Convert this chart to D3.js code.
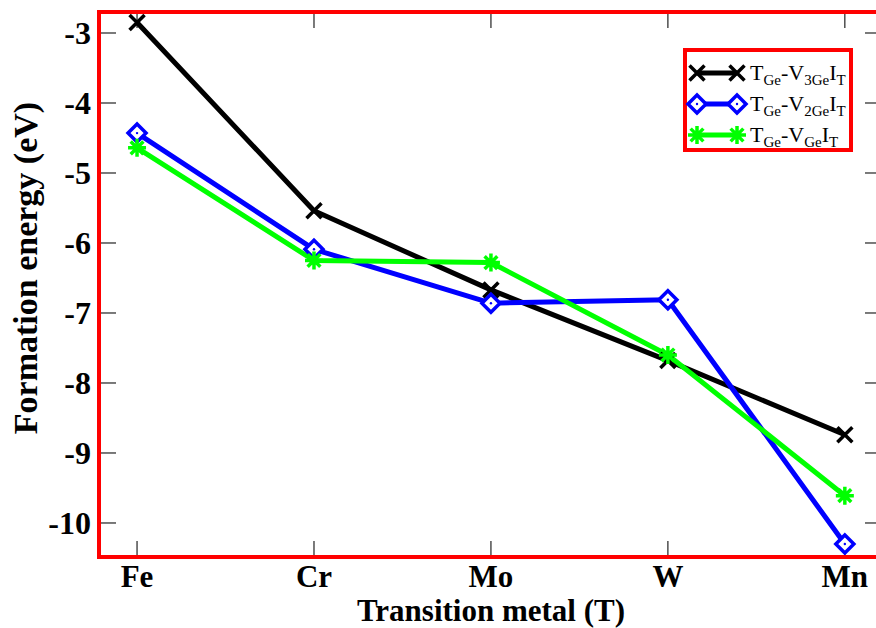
<!DOCTYPE html>
<html>
<head>
<meta charset="utf-8">
<script src="https://cdn.jsdelivr.net/npm/d3@7"></script>
<style>
  body { margin: 0; background: #fff; }
  svg text { font-family: "Liberation Serif", "Times New Roman", serif; }
</style>
</head>
<body>
<div id="chart"></div>
<script>
// data
const metals = ["Fe", "Cr", "Mo", "W", "Mn"];
const v3Ge = [-2.85, -5.54, -6.67, -7.68, -8.74];
const v2Ge = [-4.43, -6.09, -6.86, -6.81, -10.3];
const vGe = [-4.64, -6.25, -6.28, -7.6, -9.61];
const yTicks = [-3, -4, -5, -6, -7, -8, -9, -10];

const series = [
  { sub: "3Ge", values: v3Ge, color: "#000000", marker: "x" },
  { sub: "2Ge", values: v2Ge, color: "#0000ff", marker: "diamond" },
  { sub: "Ge", values: vGe, color: "#00ff00", marker: "star" }
];

const width = 876;
const height = 628;
const plotLeft = 99, plotRight = 882, plotTop = 12, plotBottom = 557;

const xScale = d3.scaleLinear().domain([-0.215, 4.21]).range([plotLeft, plotRight]);
const yScale = d3.scaleLinear().domain([-10.486, -2.7]).range([plotBottom, plotTop]);

const svg = d3
  .select("#chart")
  .append("svg")
  .attr("width", width)
  .attr("height", height);

// ticks (inward, on all four sides)
const ticks = svg.append("g").attr("stroke", "#222").attr("stroke-width", 1.2);
yTicks.forEach((t) => {
  ticks.append("line").attr("x1", plotLeft).attr("x2", plotLeft + 17)
    .attr("y1", yScale(t)).attr("y2", yScale(t));
  ticks.append("line").attr("x1", plotRight - 17).attr("x2", plotRight)
    .attr("y1", yScale(t)).attr("y2", yScale(t));
});
metals.forEach((m, i) => {
  ticks.append("line").attr("x1", xScale(i)).attr("x2", xScale(i))
    .attr("y1", plotBottom).attr("y2", plotBottom - 16);
  ticks.append("line").attr("x1", xScale(i)).attr("x2", xScale(i))
    .attr("y1", plotTop).attr("y2", plotTop + 16);
});

// tick labels
svg.append("g").selectAll("text").data(yTicks).enter().append("text")
  .attr("x", 91)
  .attr("y", (d) => yScale(d))
  .attr("dy", "0.35em")
  .attr("text-anchor", "end")
  .attr("font-size", 32)
  .attr("font-weight", "bold")
  .text((d) => d);

svg.append("g").selectAll("text").data(metals).enter().append("text")
  .attr("x", (d, i) => xScale(i))
  .attr("y", 587)
  .attr("text-anchor", "middle")
  .attr("font-size", 31)
  .attr("font-weight", "bold")
  .text((d) => d);

// axis titles
svg.append("text")
  .attr("x", 491).attr("y", 621)
  .attr("text-anchor", "middle")
  .attr("font-size", 31).attr("font-weight", "bold")
  .text("Transition metal (T)");

svg.append("text")
  .attr("transform", "translate(37,268) rotate(-90)")
  .attr("text-anchor", "middle")
  .attr("font-size", 34).attr("font-weight", "bold")
  .text("Formation energy (eV)");

// markers
function drawMarker(g, type, color, x, y) {
  if (type === "x") {
    const s = 7.5;
    g.append("path")
      .attr("d", `M${x - s},${y - s}L${x + s},${y + s}M${x - s},${y + s}L${x + s},${y - s}`)
      .attr("stroke", color).attr("stroke-width", 3.5).attr("fill", "none");
  } else if (type === "diamond") {
    const s = 9;
    g.append("path")
      .attr("d", `M${x},${y - s}L${x + s},${y}L${x},${y + s}L${x - s},${y}Z`)
      .attr("stroke", color).attr("stroke-width", 3.5).attr("fill", "#fff");
    g.append("circle").attr("cx", x).attr("cy", y).attr("r", 1.2).attr("fill", color);
  } else {
    const s = 9;
    let d = "";
    [0, 45, 90, 135].forEach((a) => {
      const r = (a * Math.PI) / 180;
      d += `M${x - s * Math.cos(r)},${y - s * Math.sin(r)}L${x + s * Math.cos(r)},${y + s * Math.sin(r)}`;
    });
    g.append("path").attr("d", d)
      .attr("stroke", color).attr("stroke-width", 3.5).attr("fill", "none");
  }
}

// lines
const line = d3.line()
  .x((d, i) => xScale(i))
  .y((d) => yScale(d));

series.forEach((s) => {
  svg.append("path")
    .datum(s.values)
    .attr("d", line)
    .attr("fill", "none")
    .attr("stroke", s.color)
    .attr("stroke-width", 5)
    .attr("stroke-linejoin", "round");
});
series.forEach((s) => {
  const g = svg.append("g");
  s.values.forEach((v, i) => drawMarker(g, s.marker, s.color, xScale(i), yScale(v)));
});

// frame
svg.append("rect")
  .attr("x", plotLeft).attr("y", plotTop)
  .attr("width", plotRight - plotLeft).attr("height", plotBottom - plotTop)
  .attr("fill", "none").attr("stroke", "#ff0000").attr("stroke-width", 4);

// legend
const legend = svg.append("g");
legend.append("rect")
  .attr("x", 685).attr("y", 50).attr("width", 166).attr("height", 100)
  .attr("fill", "#fff").attr("stroke", "#ff0000").attr("stroke-width", 4);

series.forEach((s, i) => {
  const y = 73 + i * 31;
  legend.append("line")
    .attr("x1", 697).attr("x2", 737).attr("y1", y).attr("y2", y)
    .attr("stroke", s.color).attr("stroke-width", 5);
  drawMarker(legend, s.marker, s.color, 697, y);
  drawMarker(legend, s.marker, s.color, 737, y);

  const t = legend.append("text")
    .attr("x", 750).attr("y", y + 7)
    .attr("font-size", 22);
  t.append("tspan").text("T");
  t.append("tspan").attr("font-size", 15).attr("dy", 5).text("Ge");
  t.append("tspan").attr("dy", -5).text("-V");
  t.append("tspan").attr("font-size", 15).attr("dy", 5).text(s.sub);
  t.append("tspan").attr("dy", -5).text("I");
  t.append("tspan").attr("font-size", 15).attr("dy", 5).text("T");
});
</script>
</body>
</html>
